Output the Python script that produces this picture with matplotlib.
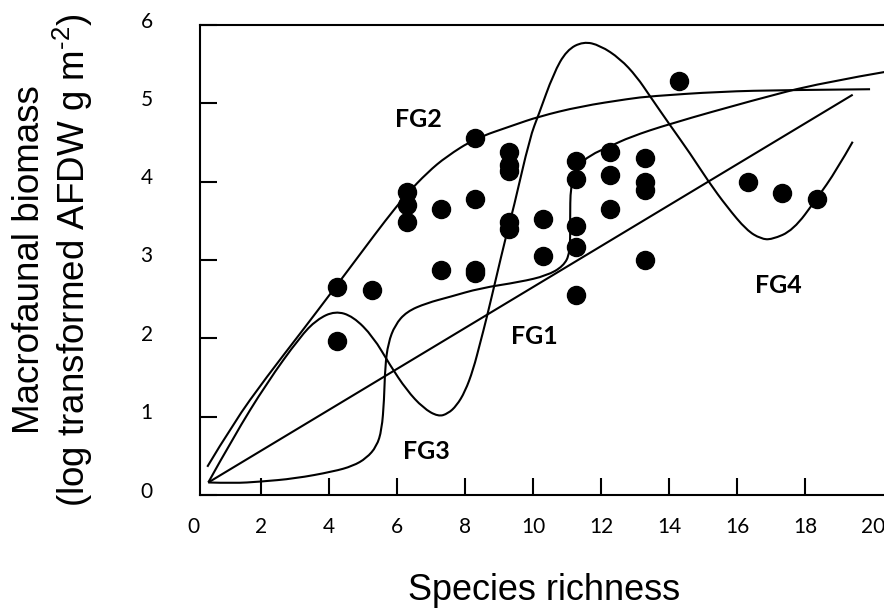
import matplotlib.pyplot as plt
import matplotlib.transforms as mtransforms
from matplotlib.path import Path
from matplotlib.patches import PathPatch

plt.rcParams['mathtext.fontset'] = 'custom'
plt.rcParams['mathtext.rm'] = 'Liberation Sans'
plt.rcParams['mathtext.default'] = 'regular'

# точки: видовое богатство и биомасса
pts_x = [4.24, 4.24, 5.26, 6.28, 6.28, 6.28, 7.29, 7.29, 8.29, 8.29, 8.29, 8.29,
         9.30, 9.30, 9.30, 9.30, 9.30, 10.30, 10.30, 11.26, 11.26, 11.26, 11.26,
         11.26, 12.26, 12.26, 12.26, 13.29, 13.29, 13.29, 13.29, 14.29, 16.31,
         17.33, 18.34]
pts_y = [2.65, 1.97, 2.62, 3.87, 3.70, 3.49, 3.65, 2.87, 4.56, 3.78, 2.87, 2.83,
         4.38, 4.21, 4.13, 3.49, 3.39, 3.52, 3.05, 4.26, 4.03, 3.43, 3.16,
         2.55, 4.38, 4.08, 3.65, 4.30, 4.00, 3.90, 3.00, 5.29, 3.99,
         3.86, 3.78]

# прямая
line_x = [0.45, 19.4]
line_y = [0.16, 5.11]

# кривая насыщения (FG2)
fg2_x = [0.42, 1.19, 2.17, 3.15, 4.13, 5.01, 5.65, 6.28, 6.90, 7.45, 8.29, 9.42,
         10.16, 11.38, 12.85, 13.44, 15.5, 17.45, 19.91]
fg2_y = [0.36, 0.92, 1.51, 2.06, 2.62, 3.13, 3.50, 3.84, 4.12, 4.32, 4.55, 4.72,
         4.83, 4.96, 5.06, 5.09, 5.15, 5.17, 5.18]

# волнообразная кривая
wave_x = [0.45, 1.19, 2.17, 3.15, 3.64, 4.18, 4.71, 5.30, 5.79, 6.28, 6.77, 7.21,
          7.50, 7.75, 8.00, 8.24, 8.45, 8.63, 8.93, 9.18, 9.42, 9.91, 10.16,
          10.60, 10.99, 11.48, 11.97, 12.56, 13.05, 13.44, 14.03, 14.62, 15.16,
          15.70, 16.28, 16.70, 17.02, 17.65, 18.34, 18.93, 19.40]
wave_y = [0.16, 0.74, 1.43, 2.02, 2.24, 2.35, 2.28, 2.02, 1.66, 1.34, 1.11, 1.00,
          1.04, 1.14, 1.32, 1.60, 1.95, 2.25, 2.80, 3.26, 3.65, 4.57, 4.85,
          5.38, 5.68, 5.79, 5.74, 5.57, 5.34, 5.09, 4.72, 4.36, 4.00,
          3.68, 3.38, 3.27, 3.26, 3.38, 3.78, 4.15, 4.51]

# сигмоида (FG1)
sig_x = [0.45, 1.20, 1.97, 3.00, 4.13, 4.70, 5.10, 5.40, 5.55, 5.62, 5.65, 5.74,
         5.94, 6.28, 6.87, 7.56, 8.44, 9.62, 10.40, 10.89, 11.09, 11.09, 11.10,
         11.28, 11.68, 12.26, 12.85, 14.03, 16.48, 18.44, 20.60]
sig_y = [0.16, 0.15, 0.17, 0.21, 0.30, 0.37, 0.47, 0.62, 0.83, 1.21, 1.64, 1.94,
         2.17, 2.34, 2.45, 2.53, 2.64, 2.72, 2.80, 2.92, 3.09, 3.51, 3.94,
         4.19, 4.34, 4.45, 4.57, 4.74, 5.04, 5.26, 5.42]

labels = ['FG2', 'FG1', 'FG3', 'FG4']
label_x = [6.62, 10.05, 6.85, 17.21]
label_y = [4.79, 2.02, 0.55, 2.67]

x_ticks = [2, 4, 6, 8, 10, 12, 14, 16, 18, 20]
y_ticks = [0, 1, 2, 3, 4, 5, 6]


def smooth_path(xs, ys):
    # квадратичные кривые Безье через середины отрезков
    pts = list(zip(xs, ys))
    if len(pts) < 3:
        return Path(pts)
    verts = [pts[0]]
    codes = [Path.MOVETO]
    for i in range(1, len(pts) - 1):
        mid = ((pts[i][0] + pts[i + 1][0]) / 2, (pts[i][1] + pts[i + 1][1]) / 2)
        if i == len(pts) - 2:
            mid = pts[-1]
        verts += [pts[i], mid]
        codes += [Path.CURVE3, Path.CURVE3]
    return Path(verts, codes)


fig = plt.figure(figsize=(8.84, 6.10), dpi=100)
ax = fig.add_axes([200 / 884, 115 / 610, 684 / 884, 470 / 610])

for cx, cy in [(line_x, line_y), (fg2_x, fg2_y), (wave_x, wave_y), (sig_x, sig_y)]:
    ax.add_patch(PathPatch(smooth_path(cx, cy), facecolor='none',
                           edgecolor='black', lw=1.5))
ax.plot(pts_x, pts_y, 'o', color='black', markersize=13, zorder=3)

for t, lx, ly in zip(labels, label_x, label_y):
    ax.text(lx, ly, t, ha='center', va='center', fontsize=18,
            fontweight='bold', family='Lato')

ax.set_xlim(0.206, 20.32)
ax.set_ylim(0, 6)
ax.set_xticks(x_ticks)
ax.set_yticks(y_ticks)
ax.tick_params(axis='both', which='major', direction='in', length=12,
               width=1.5, color='black', labelsize=15)
ax.tick_params(axis='x', pad=16)
ax.tick_params(axis='y', pad=34)
for lab in ax.get_xticklabels() + ax.get_yticklabels():
    lab.set_fontfamily('Lato')
ax.xaxis.get_major_ticks()[-1].tick1line.set_visible(False)
for s in ['left', 'bottom', 'top']:
    ax.spines[s].set_linewidth(1.5)
ax.spines['right'].set_visible(False)

# подпись 0 по оси x
ax.annotate('0', xy=(0, 0), xycoords=('data', 'axes fraction'),
            xytext=(0, -16), textcoords='offset points', ha='center', va='top',
            fontsize=15, family='Lato', annotation_clip=False)

offset = mtransforms.ScaledTranslation(0, 0.055, fig.dpi_scale_trans)
for lab in ax.get_yticklabels():
    lab.set_transform(lab.get_transform() + offset)

ax.set_xlabel('Species richness', fontsize=26, family='Liberation Sans')
ax.xaxis.set_label_coords(0.503, -0.166)
ax.xaxis.label.set_va('top')
ax.set_ylabel('Macrofaunal biomass\n(log transformed AFDW g m$^{\\text{-}2}$)',
              fontsize=26.5, family='Liberation Sans', linespacing=1.12)
ax.yaxis.set_label_coords(-0.1535, 0.5)

fig.savefig('out.png', dpi=100)
